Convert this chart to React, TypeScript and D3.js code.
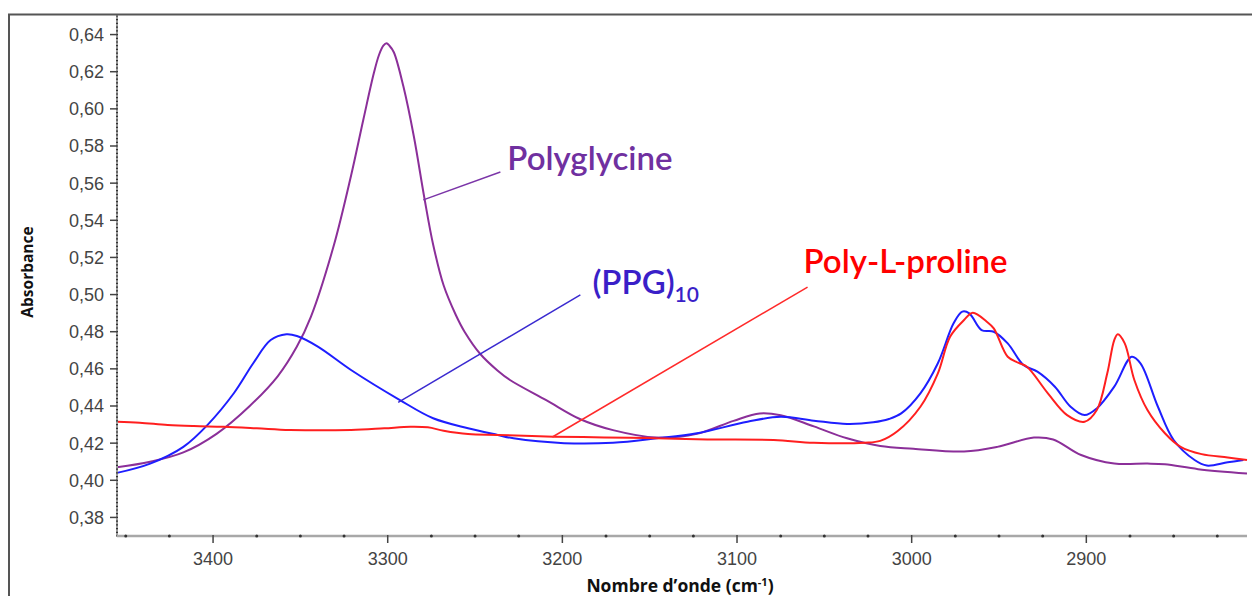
import React from "react";
import * as d3 from "d3";

// ---------- data (wavenumber cm-1, absorbance) ----------
const xTickValues = [3400, 3300, 3200, 3100, 3000, 2900];
const yTickValues = [0.38, 0.4, 0.42, 0.44, 0.46, 0.48, 0.5, 0.52, 0.54, 0.56, 0.58, 0.6, 0.62, 0.64];

const polyglycineWn = [3455, 3436, 3417, 3398, 3379, 3363, 3352, 3344, 3331, 3321, 3314, 3308, 3305, 3302.5, 3300.7, 3299, 3296.5, 3291, 3285, 3279, 3274, 3268, 3261, 3256, 3247, 3237, 3230, 3209, 3190, 3171, 3146, 3123, 3102, 3087, 3075, 3056, 3037, 3018, 2999, 2970, 2951, 2930, 2919, 2903, 2884, 2865, 2855, 2836, 2808];
const polyglycineAbs = [0.407, 0.41, 0.415, 0.425, 0.44, 0.456, 0.472, 0.488, 0.526, 0.564, 0.594, 0.619, 0.629, 0.634, 0.6353, 0.634, 0.6305, 0.612, 0.585, 0.552, 0.527, 0.505, 0.489, 0.48, 0.468, 0.459, 0.454, 0.443, 0.433, 0.427, 0.423, 0.425, 0.432, 0.436, 0.435, 0.429, 0.4226, 0.4185, 0.417, 0.4155, 0.418, 0.423, 0.422, 0.4136, 0.409, 0.409, 0.4086, 0.406, 0.4037];

const ppgWn = [3455, 3436, 3417, 3403, 3388, 3377, 3367, 3358, 3352, 3340, 3321, 3293, 3274, 3254, 3237, 3228, 3199, 3171, 3146, 3123, 3094, 3075, 3056, 3037, 3022, 3013, 3006, 2995, 2985, 2976, 2971, 2967, 2960, 2953, 2945, 2936, 2928, 2918, 2909, 2901, 2894, 2884, 2874, 2869, 2859, 2850, 2838, 2831, 2819, 2810];
const ppgAbs = [0.404, 0.409, 0.418, 0.43, 0.447, 0.463, 0.4755, 0.4786, 0.4777, 0.472, 0.4594, 0.4432, 0.4334, 0.428, 0.4244, 0.4226, 0.42, 0.4202, 0.4226, 0.4253, 0.4315, 0.4342, 0.4321, 0.4303, 0.4312, 0.433, 0.436, 0.4468, 0.463, 0.4845, 0.4908, 0.4899, 0.4809, 0.48, 0.4737, 0.4621, 0.4585, 0.4504, 0.4396, 0.4351, 0.4387, 0.4504, 0.4665, 0.463, 0.4396, 0.4217, 0.4109, 0.4079, 0.4097, 0.4109];

const prolineWn = [3455, 3442, 3426, 3411, 3394, 3375, 3356, 3321, 3302, 3287, 3277, 3268, 3254, 3237, 3205, 3176, 3146, 3117, 3079, 3056, 3027, 3018, 3008, 2995, 2985, 2978, 2970, 2965, 2957, 2953, 2945, 2939, 2934, 2922, 2911, 2901, 2894, 2888, 2884, 2882, 2878, 2872.5, 2865, 2855, 2846, 2834, 2819, 2808];
const prolineAbs = [0.4315, 0.431, 0.4298, 0.4292, 0.4288, 0.428, 0.4271, 0.4271, 0.428, 0.4288, 0.4285, 0.4267, 0.4249, 0.4244, 0.4235, 0.4231, 0.4226, 0.422, 0.4217, 0.4202, 0.4202, 0.4212, 0.4265, 0.4396, 0.4576, 0.4773, 0.4863, 0.4902, 0.4854, 0.4818, 0.4665, 0.4633, 0.4611, 0.4468, 0.4351, 0.4315, 0.4378, 0.4576, 0.4755, 0.4786, 0.4737, 0.454, 0.4378, 0.4253, 0.418, 0.4141, 0.4123, 0.4109];

// annotations: label, anchor on curve [wn, abs], leader end [wn, abs], text pos [wn, abs]
const annotationLabels = ["Polyglycine", "(PPG)", "Poly-L-proline"];
const annotationAnchors: [number, number][] = [[3279.6, 0.551], [3294, 0.442], [3205.7, 0.4233]];
const annotationEnds: [number, number][] = [[3235.5, 0.566], [3189.7, 0.4998], [3059.6, 0.504]];
const annotationTextPos: [number, number][] = [[3231.5, 0.5672], [3182.8, 0.5005], [3061.9, 0.5116]];

const series = [
  { wn: polyglycineWn, abs: polyglycineAbs, color: "#8B2F99" },
  { wn: ppgWn, abs: ppgAbs, color: "#1E1EFF" },
  { wn: prolineWn, abs: prolineAbs, color: "#FF1F1F" },
];
const annotationColors = ["#7030A0", "#3A1FC8", "#FF0000"];
const leaderColors = ["#7B35A8", "#3A2AD0", "#FF2A2A"];

export default function App() {
  const W = 1253;
  const H = 596;
  const x = d3.scaleLinear().domain([3455, 2808]).range([117, 1247]);
  const y = d3.scaleLinear().domain([0.37, 0.65]).range([536, 16]);
  const axisY = 536;
  const axisX = 117;

  const line = d3
    .line<[number, number]>()
    .x((d) => x(d[0]))
    .y((d) => y(d[1]))
    .curve(d3.curveCatmullRom.alpha(0.5));

  const fmtY = (v: number) => d3.format(".2f")(v).replace(".", ",");
  const minorX = d3.range(3450, 2808, -25).filter((v) => v % 100 !== 0);
  const minorY = d3.range(0, 141).map((i) => 0.37 + i * 0.002).filter((v) => v <= 0.65);

  const tickFont = "'Liberation Sans', Arial, sans-serif";
  const annFont = "Lato, 'Open Sans', sans-serif";

  return (
    <div style={{ position: "absolute", left: 0, top: 0 }}>
      <svg width={W} height={H} style={{ display: "block", background: "#fff" }}>
        {/* frame */}
        <path d={`M9,${H} L9,14.5 L1252,14.5`} fill="none" stroke="#555" strokeWidth={2} />

        {/* curves */}
        {series.map((s, i) => (
          <path
            key={i}
            d={line(s.wn.map((w, j) => [w, s.abs[j]] as [number, number])) || ""}
            fill="none"
            stroke={s.color}
            strokeWidth={2}
            strokeLinejoin="round"
          />
        ))}

        {/* y axis */}
        <line x1={axisX} x2={axisX} y1={16} y2={axisY} stroke="#9a9a9a" strokeWidth={2} />
        {minorY.map((v, i) => (
          <line key={"my" + i} x1={axisX - 1} x2={axisX + 1} y1={y(v)} y2={y(v)} stroke="#333" strokeWidth={1.2} />
        ))}
        {yTickValues.map((v) => (
          <g key={"y" + v}>
            <line x1={axisX - 7} x2={axisX} y1={y(v)} y2={y(v)} stroke="#444" strokeWidth={1.5} />
            <text
              x={104}
              y={y(v)}
              dy="0.36em"
              textAnchor="end"
              fontFamily={tickFont}
              fontSize={18}
              fill="#444"
            >
              {fmtY(v)}
            </text>
          </g>
        ))}

        {/* x axis */}
        <line x1={axisX} x2={1247} y1={axisY} y2={axisY} stroke="#a8a8a8" strokeWidth={2.5} />
        {minorX.map((v) => (
          <circle key={"mx" + v} cx={x(v)} cy={axisY} r={1.5} fill="#333" />
        ))}
        {xTickValues.map((v) => (
          <g key={"x" + v}>
            <line x1={x(v)} x2={x(v)} y1={axisY - 1} y2={axisY + 7} stroke="#444" strokeWidth={1.5} />
            <text
              x={x(v)}
              y={565}
              textAnchor="middle"
              fontFamily={tickFont}
              fontSize={18}
              fill="#444"
            >
              {v}
            </text>
          </g>
        ))}

        {/* axis titles */}
        <text
          x={680}
          y={592}
          textAnchor="middle"
          fontFamily="'Open Sans', sans-serif"
          fontWeight={700}
          fontSize={17.5}
          fill="#111"
        >
          Nombre d’onde (cm
          <tspan dy={-6} fontSize={11}>-1</tspan>
          <tspan dy={6}>)</tspan>
        </text>
        <text
          transform={`translate(33, 272) rotate(-90)`}
          textAnchor="middle"
          fontFamily="'Open Sans', sans-serif"
          fontWeight={700}
          fontSize={15.5}
          fill="#111"
        >
          Absorbance
        </text>

        {/* annotations */}
        {annotationLabels.map((lab, i) => (
          <g key={"a" + i}>
            <line
              x1={x(annotationAnchors[i][0])}
              y1={y(annotationAnchors[i][1])}
              x2={x(annotationEnds[i][0])}
              y2={y(annotationEnds[i][1])}
              stroke={leaderColors[i]}
              strokeWidth={1.5}
            />
            <text
              x={x(annotationTextPos[i][0])}
              y={y(annotationTextPos[i][1])}
              fontFamily={annFont}
              fontWeight={600}
              fontSize={33}
              fill={annotationColors[i]}
            >
              {lab}
              {i === 1 ? (
                <tspan dy={8} fontSize={21}>
                  10
                </tspan>
              ) : null}
            </text>
          </g>
        ))}
      </svg>
    </div>
  );
}
